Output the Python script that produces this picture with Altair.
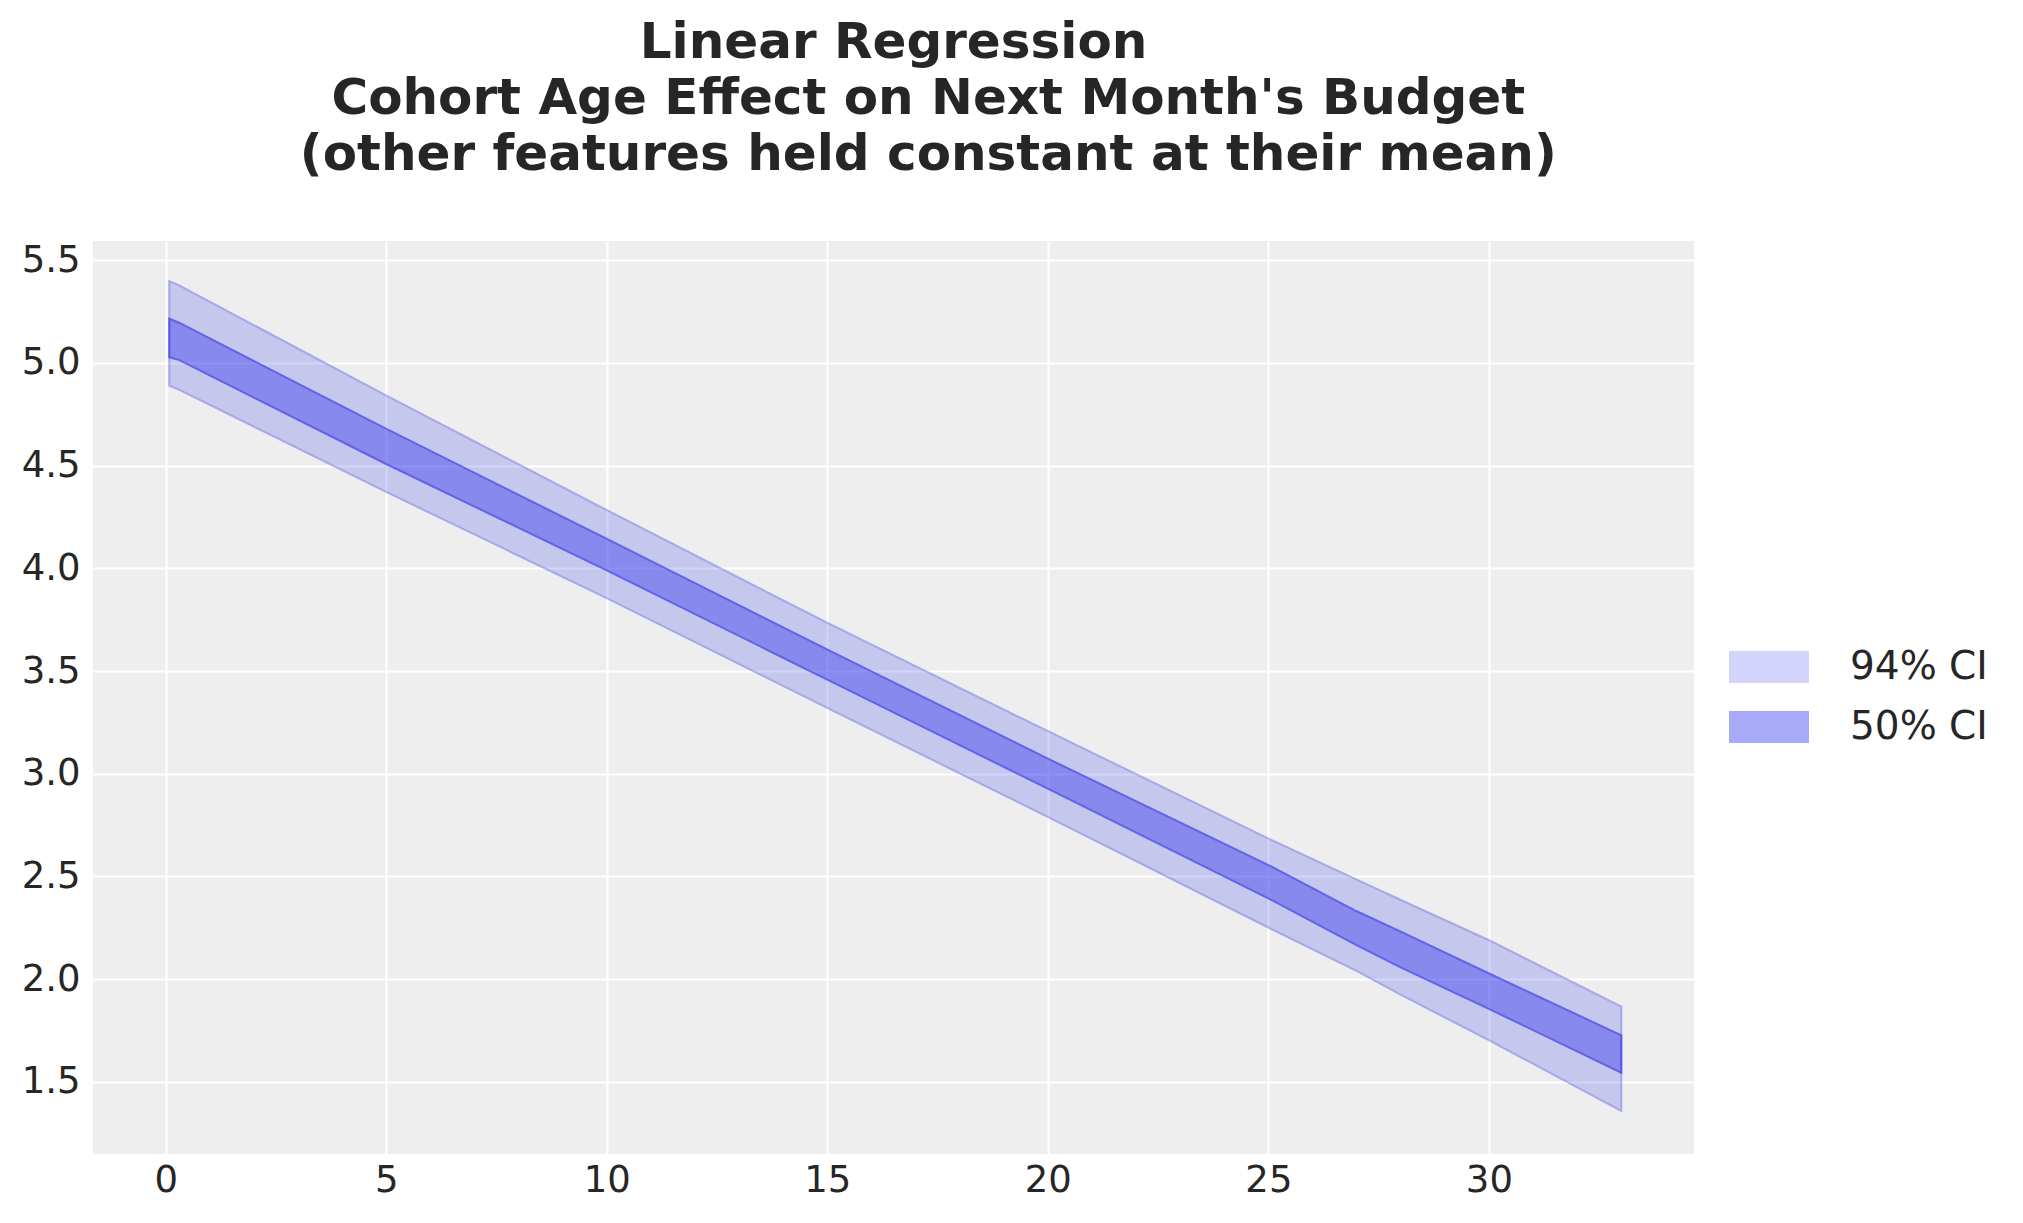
import altair as alt
import pandas as pd

# values
cohort_age = [0.08, 0.3, 5, 10, 15, 20, 25, 27, 28, 30, 33]
hdi94_lo = [4.89, 4.87, 4.372, 3.855, 3.32, 2.79, 2.251, 2.04, 1.924, 1.702, 1.358]
hdi94_hi = [5.398, 5.378, 4.841, 4.283, 3.734, 3.207, 2.684, 2.484, 2.385, 2.189, 1.866]
hdi50_lo = [5.028, 5.015, 4.508, 3.99, 3.458, 2.927, 2.393, 2.165, 2.057, 1.855, 1.544]
hdi50_hi = [5.215, 5.196, 4.679, 4.143, 3.604, 3.073, 2.555, 2.33, 2.231, 2.027, 1.726]
bands = ["94% CI", "50% CI"]
band_alpha = [0.2, 0.4]
x_ticks = [0, 5, 10, 15, 20, 25, 30]
y_ticks = [1.5, 2.0, 2.5, 3.0, 3.5, 4.0, 4.5, 5.0, 5.5]
PAD = "\u200b" + "\u00a0" * 4
title_lines = [
    "Linear Regression",
    PAD + "Cohort Age Effect on Next Month's Budget",
    PAD + "(other features held constant at their mean)",
]

BLUE = "#2a2eec"
TEXT = "#262626"
FONT = "DejaVu Sans"

rows = []
for i, xv in enumerate(cohort_age):
    rows.append({"x": xv, "lo": hdi94_lo[i], "hi": hdi94_hi[i], "band": bands[0]})
for i, xv in enumerate(cohort_age):
    rows.append({"x": xv, "lo": hdi50_lo[i], "hi": hdi50_hi[i], "band": bands[1]})
df = pd.DataFrame(rows)

x_enc = alt.X(
    "x:Q",
    scale=alt.Scale(domain=[-1.65, 34.65], nice=False, zero=False),
    axis=alt.Axis(values=x_ticks, title=None, format="d"),
)
y_enc = alt.Y(
    "lo:Q",
    scale=alt.Scale(domain=[1.148, 5.594], nice=False, zero=False),
    axis=alt.Axis(values=y_ticks, title=None, format=".1f"),
)
color_enc = alt.Color(
    "band:N",
    scale=alt.Scale(domain=bands, range=[BLUE, BLUE]),
    legend=alt.Legend(
        title=None,
        orient="none",
        legendX=1636,
        legendY=386,
        symbolType="M-1,-0.385H1V0.385H-1Z",
        symbolSize=6084,
        symbolStrokeColor=BLUE,
        symbolStrokeWidth=2,
        labelFontSize=39,
        labelFont=FONT,
        labelColor=TEXT,
        labelOffset=41,
        rowPadding=0,
    ),
)
opacity_enc = alt.Opacity(
    "band:N",
    scale=alt.Scale(domain=bands, range=band_alpha),
    legend=None,
)
stroke_enc = alt.Stroke(
    "band:N",
    scale=alt.Scale(domain=bands, range=[BLUE, BLUE]),
    legend=None,
)


def band_fill(name):
    return (
        alt.Chart(df)
        .transform_filter(alt.datum.band == name)
        .mark_area(interpolate="linear", strokeWidth=2)
        .encode(
            x=x_enc,
            y=y_enc,
            y2="hi:Q",
            color=color_enc,
            opacity=opacity_enc,
            stroke=stroke_enc,
        )
    )


def band_edge(name):
    return (
        alt.Chart(df)
        .transform_filter(alt.datum.band == name)
        .mark_area(interpolate="linear", filled=False, strokeWidth=2)
        .encode(x=x_enc, y=y_enc, y2="hi:Q", color=color_enc, opacity=opacity_enc)
    )


chart = (
    alt.layer(
        band_fill(bands[0]),
        band_edge(bands[0]),
        band_fill(bands[1]),
        band_edge(bands[1]),
    )
    .properties(
        width=1601,
        height=913,
        title=alt.TitleParams(
            text=title_lines,
            fontSize=50,
            font=FONT,
            fontWeight="bold",
            color=TEXT,
            lineHeight=56,
            anchor="middle",
            frame="group",
            offset=61,
        ),
        padding={"left": 13, "top": 10, "right": 5, "bottom": 5},
    )
    .configure_view(fill="#eeeeee", stroke=None)
    .configure_axis(
        domain=False,
        ticks=False,
        grid=True,
        gridColor="#ffffff",
        gridWidth=2,
        gridOpacity=1,
        labelFontSize=37,
        labelFont=FONT,
        labelColor=TEXT,
    )
    .configure_axisX(labelPadding=8)
    .configure_axisY(labelPadding=13, minExtent=72, maxExtent=72)
)

chart.save("out.html", embed_options={"renderer": "svg", "actions": False})
